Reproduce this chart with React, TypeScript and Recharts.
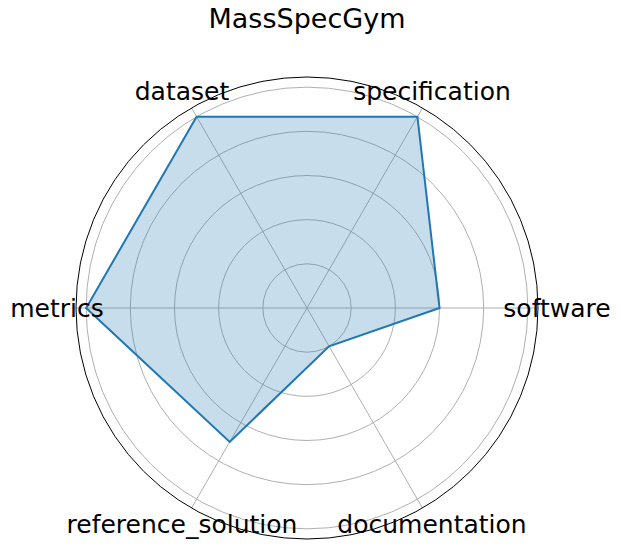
import { RadarChart, Radar, PolarGrid, PolarAngleAxis, PolarRadiusAxis } from 'recharts';

// listed clockwise starting from the right-hand axis
const categories = ['software', 'documentation', 'reference_solution', 'metrics', 'dataset', 'specification'];
const scores = [3, 1, 3.5, 5, 5, 5];
const radiusTicks = [1, 2, 3, 4, 5];
const radiusMax = 5.23;

const chartData = categories.map((name, i) => ({ name, score: scores[i] }));

const FONT = '"DejaVu Sans", sans-serif';

function AngleTick(props: any) {
  const { x, y, payload } = props;
  return (
    <text x={x} y={y} textAnchor="middle" dominantBaseline="central" fontSize={25} fontFamily={FONT} fill="#000">
      {payload.value}
    </text>
  );
}

export default function App() {
  return (
    <div style={{ width: 621, height: 549, margin: -8, position: 'relative' }}>
      <RadarChart
        width={621}
        height={549}
        data={chartData}
        cx={307}
        cy={308}
        outerRadius={231}
        startAngle={0}
        endAngle={-360}
        margin={{ top: 0, right: 0, bottom: 0, left: 0 }}
      >
        <text x={307} y={28} textAnchor="middle" fontSize={27} fontFamily={FONT} fill="#000">
          MassSpecGym
        </text>
        <PolarGrid gridType="circle" stroke="#b0b0b0" strokeWidth={1} />
        <PolarAngleAxis
          dataKey="name"
          axisLineType="circle"
          axisLine={{ stroke: '#000', strokeWidth: 1 }}
          tickLine={false}
          tickSize={19}
          tick={AngleTick}
        />
        <PolarRadiusAxis
          type="number"
          domain={[0, radiusMax]}
          ticks={radiusTicks}
          tick={false}
          axisLine={false}
        />
        <Radar
          dataKey="score"
          stroke="#1f77b4"
          strokeWidth={2}
          fill="#1f77b4"
          fillOpacity={0.25}
          isAnimationActive={false}
        />
      </RadarChart>
    </div>
  );
}
